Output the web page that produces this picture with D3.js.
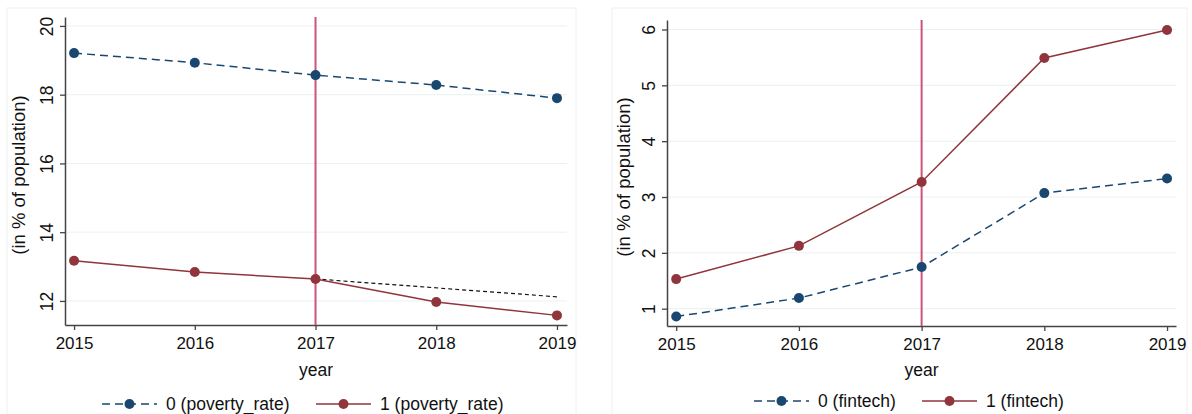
<!DOCTYPE html>
<html>
<head>
<meta charset="utf-8">
<script src="https://cdn.jsdelivr.net/npm/d3@7"></script>
<style>
  body { margin: 0; background: #fff; }
  svg text { font-family: "Liberation Sans", Arial, sans-serif; fill: #111; }
</style>
</head>
<body>
<div id="chart"></div>
<script>
// ----------------------
// Two-panel event plot: poverty rate and fintech by group
// ----------------------

const years = [2015, 2016, 2017, 2018, 2019];

// left panel: poverty rate
const povertyTicks = [12, 14, 16, 18, 20];
const poverty0 = [19.21, 18.93, 18.57, 18.28, 17.90];
const poverty1 = [13.17, 12.84, 12.64, 11.97, 11.58];
const povertyTrendYears = [2017, 2019];
const povertyTrend = [12.64, 12.12];

// right panel: fintech
const fintechTicks = [1, 2, 3, 4, 5, 6];
const fintech0 = [0.86, 1.19, 1.745, 3.07, 3.33];
const fintech1 = [1.53, 2.125, 3.27, 5.49, 5.99];

const eventYear = 2017;

const blue = "#1a476f";
const red = "#90353b";
const eventColor = "#cf5377";
const gridColor = "#e9f1f2";

const W = 1192, H = 414;

const svg = d3.select("#chart")
    .append("svg")
    .attr("width", W)
    .attr("height", H);

function drawPanel(o) {
    const g = svg.append("g");

    // faint outer frame
    g.append("rect")
        .attr("x", o.frame[0]).attr("y", o.frame[1])
        .attr("width", o.frame[2]).attr("height", o.frame[3])
        .attr("fill", "none")
        .attr("stroke", "#eef1f1");

    const x = d3.scaleLinear().domain(o.xDomain).range([o.left, o.right]);
    const y = d3.scaleLinear().domain(o.yDomain).range([o.bottom, o.top]);

    // grid
    g.selectAll(".grid")
        .data(o.yTicks)
        .enter()
        .append("line")
        .attr("x1", o.left).attr("x2", o.right)
        .attr("y1", d => y(d)).attr("y2", d => y(d))
        .attr("stroke", gridColor)
        .attr("stroke-width", 1);

    // x axis
    const xAxis = g.append("g")
        .attr("transform", `translate(0,${o.bottom})`)
        .call(d3.axisBottom(x).tickValues(years).tickFormat(d3.format("d"))
            .tickSize(5).tickSizeOuter(0).tickPadding(7));
    xAxis.selectAll("text").style("font-size", "17px");

    // y axis
    const yAxis = g.append("g")
        .attr("transform", `translate(${o.left},0)`)
        .call(d3.axisLeft(y).tickValues(o.yTicks).tickFormat(d3.format("d"))
            .tickSize(5).tickSizeOuter(0));
    yAxis.selectAll("text")
        .attr("x", null).attr("dy", null)
        .attr("text-anchor", "middle")
        .attr("transform", "translate(-12,0) rotate(-90)")
        .style("font-size", "17.5px");

    [xAxis, yAxis].forEach(a => {
        a.selectAll("path, line").attr("stroke", "#444").attr("stroke-width", 1.3);
        a.select(".domain").attr("stroke-width", 1.5);
        a.selectAll("text").attr("fill", "#111");
    });

    // titles
    g.append("text")
        .attr("x", (o.left + o.right) / 2)
        .attr("y", 376)
        .attr("text-anchor", "middle")
        .style("font-size", "17.5px")
        .text("year");

    g.append("text")
        .attr("transform", `translate(${o.frame[0] + 18},${(o.top + o.bottom) / 2 + 4}) rotate(-90)`)
        .attr("text-anchor", "middle")
        .style("font-size", "18.5px")
        .text("(in % of population)");

    // event line
    g.append("line")
        .attr("x1", x(eventYear)).attr("x2", x(eventYear))
        .attr("y1", o.top).attr("y2", o.bottom)
        .attr("stroke", eventColor)
        .attr("stroke-width", 2);

    const line = d3.line().x(d => x(d[0])).y(d => y(d[1]));

    // optional trend
    if (o.trend) {
        g.append("path")
            .attr("d", line(d3.zip(o.trend.years, o.trend.values)))
            .attr("fill", "none")
            .attr("stroke", "#111")
            .attr("stroke-width", 1.2)
            .attr("stroke-dasharray", "4,3");
    }

    o.series.forEach(s => {
        const pts = d3.zip(years, s.values);
        g.append("path")
            .attr("d", line(pts))
            .attr("fill", "none")
            .attr("stroke", s.color)
            .attr("stroke-width", 1.5)
            .attr("stroke-dasharray", s.dash ? "8,5" : null);
        g.selectAll(null)
            .data(pts)
            .enter()
            .append("circle")
            .attr("cx", d => x(d[0]))
            .attr("cy", d => y(d[1]))
            .attr("r", 5)
            .attr("fill", s.color);
    });

    // legend
    o.series.forEach((s, i) => {
        const lx = o.legendX[i];
        const lg = g.append("g").attr("transform", `translate(${lx},${o.legendY})`);
        lg.append("line")
            .attr("x1", 0).attr("x2", 55)
            .attr("stroke", s.color)
            .attr("stroke-width", 1.5)
            .attr("stroke-dasharray", s.dash ? "8,5" : null);
        lg.append("circle").attr("cx", 27.5).attr("r", 5).attr("fill", s.color);
        lg.append("text")
            .attr("x", 64)
            .attr("dy", "0.36em")
            .style("font-size", "17.5px")
            .text(s.label);
    });
}

drawPanel({
    frame: [7, 8, 569, 420],
    left: 65, right: 567, top: 17, bottom: 325,
    xDomain: [2014.925, 2019.083],
    yDomain: [11.30, 20.26],
    yTicks: povertyTicks,
    trend: { years: povertyTrendYears, values: povertyTrend },
    series: [
        { values: poverty0, color: blue, dash: true, label: "0 (poverty_rate)" },
        { values: poverty1, color: red, dash: false, label: "1 (poverty_rate)" }
    ],
    legendX: [102, 316],
    legendY: 404
});

drawPanel({
    frame: [612, 8, 575, 420],
    left: 667, right: 1176, top: 20, bottom: 326,
    xDomain: [2014.925, 2019.073],
    yDomain: [0.69, 6.17],
    yTicks: fintechTicks,
    series: [
        { values: fintech0, color: blue, dash: true, label: "0 (fintech)" },
        { values: fintech1, color: red, dash: false, label: "1 (fintech)" }
    ],
    legendX: [754, 922],
    legendY: 401
});
</script>
</body>
</html>
